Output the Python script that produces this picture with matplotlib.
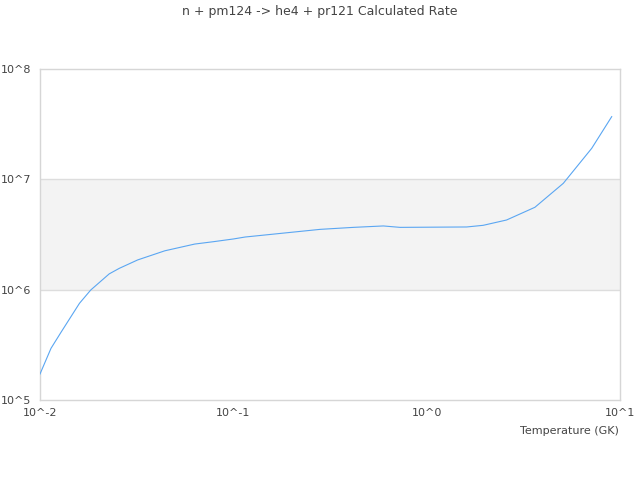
import matplotlib
matplotlib.use("Agg")
import matplotlib.pyplot as plt
from matplotlib.ticker import FixedLocator, NullLocator

title = "n + pm124 -> he4 + pr121 Calculated Rate"
xlabel = "Temperature (GK)"

temperature = [0.01, 0.0114, 0.0129, 0.016, 0.0183, 0.0228, 0.0257, 0.032,
               0.0442, 0.0631, 0.0787, 0.1, 0.115, 0.281, 0.418, 0.597,
               0.728, 1.61, 1.96, 2.59, 3.63, 5.09, 7.14, 9.06]
rate = [1.72e5, 2.94e5, 4.16e5, 7.52e5, 9.93e5, 1.39e6, 1.56e6, 1.86e6,
        2.25e6, 2.59e6, 2.72e6, 2.88e6, 3.00e6, 3.52e6, 3.67e6, 3.78e6,
        3.67e6, 3.70e6, 3.83e6, 4.28e6, 5.58e6, 9.2e6, 1.91e7, 3.70e7]

x_ticks = [1e-2, 1e-1, 1e0, 1e1]
x_tick_labels = ["10^-2", "10^-1", "10^0", "10^1"]
y_ticks = [1e5, 1e6, 1e7, 1e8]
y_tick_labels = ["10^5", "10^6", "10^7", "10^8"]
band = (1e6, 1e7)

text_color = "#444444"
fig = plt.figure(figsize=(6.4, 4.8), dpi=100)
ax = fig.add_axes([40 / 640, 1 - 400 / 480, 580 / 640, 331 / 480])
ax.set_xscale("log")
ax.set_yscale("log")
ax.set_xlim(x_ticks[0], x_ticks[-1])
ax.set_ylim(y_ticks[0], y_ticks[-1])

ax.axhspan(band[0], band[1], color="#f3f3f3", zorder=0, lw=0)
for yv in y_ticks[1:-1]:
    ax.axhline(yv, color="#dddddd", lw=1.0, zorder=1)

ax.plot(temperature, rate, color="#5aa6f2", lw=0.8, zorder=3)

for s in ax.spines.values():
    s.set_color("#d6d6d6")
    s.set_linewidth(1.0)

ax.xaxis.set_major_locator(FixedLocator(x_ticks))
ax.xaxis.set_minor_locator(NullLocator())
ax.yaxis.set_major_locator(FixedLocator(y_ticks))
ax.yaxis.set_minor_locator(NullLocator())
ax.set_xticklabels(x_tick_labels)
ax.set_yticklabels(y_tick_labels)
ax.tick_params(axis="both", length=0, labelsize=8, colors=text_color)
ax.tick_params(axis="x", pad=6)
for lbl in ax.get_yticklabels():
    lbl.set_horizontalalignment("left")
ax.tick_params(axis="y", pad=28)

fig.text(320 / 640, 1 - 12 / 480, title, ha="center", va="center",
         fontsize=9, color=text_color)
fig.text(619 / 640, 1 - 431 / 480, xlabel, ha="right", va="center",
         fontsize=8, color=text_color)

fig.savefig("out.png", dpi=100)
